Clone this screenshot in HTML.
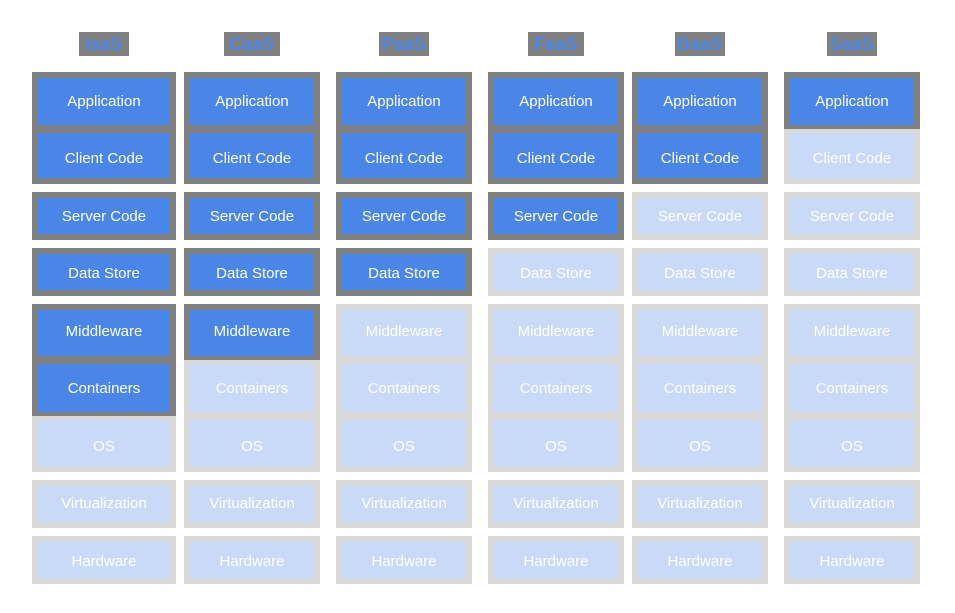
<!DOCTYPE html>
<html><head><style>
body{margin:0;width:955px;height:613px;background:#fff;position:relative;overflow:hidden;font-family:"Liberation Sans",sans-serif}
.f{position:absolute}
.b{position:absolute}
.t{position:absolute;color:#fff;font-size:15px;text-align:center;height:20px;line-height:20px}
.h{position:absolute;background:#808080;color:#4a86e8;font-weight:bold;font-size:18px;display:flex;align-items:center;justify-content:center;height:24px;top:32px}
</style></head><body>
<div id="r"></div>
<script>
var cols=[[32,176,"IaaS",6],[184,320,"CaaS",5],[336,472,"PaaS",4],[488,624,"FaaS",3],[632,768,"BaaS",2],[784,920,"SaaS",1]];
var names=["Application","Client Code","Server Code","Data Store","Middleware","Containers","OS","Virtualization","Hardware"];
var cy=[100,157,215,272,330,387,445,502,560];
var seg=[[72,129,1,0],[129,184,0,1],[192,240,1,1],[248,296,1,1],[304,360,1,0],[360,416,0,0],[416,472,0,1],[480,528,1,1],[536,584,1,1]];
var h="";
cols.forEach(function(c){
 var w=c[1]-c[0],cx=(c[0]+c[1])/2,hw=c[2]=="CaaS"||c[2]=="FaaS"?56:50;
 h+='<div class="h" style="left:'+(cx-hw/2)+'px;width:'+hw+'px">'+c[2]+'</div>';
 seg.forEach(function(s,i){
  var on=i<c[3];
  h+='<div class="f" style="left:'+c[0]+'px;top:'+s[0]+'px;width:'+w+'px;height:'+(s[1]-s[0])+'px;background:'+(on?'#808080':'#d9d9d9')+'"></div>';
  var t=s[0]+(s[2]?6:4),b=s[1]-(s[3]?6:4);
  h+='<div class="b" style="left:'+(c[0]+6)+'px;top:'+t+'px;width:'+(w-12)+'px;height:'+(b-t)+'px;background:'+(on?'#4a86e8':'#c9daf8')+'"></div>';
  h+='<div class="t" style="left:'+c[0]+'px;width:'+w+'px;top:'+(cy[i]-8)+'px">'+names[i]+'</div>';
 });
});
document.getElementById("r"). innerHTML=h;
</script>
</body></html>
